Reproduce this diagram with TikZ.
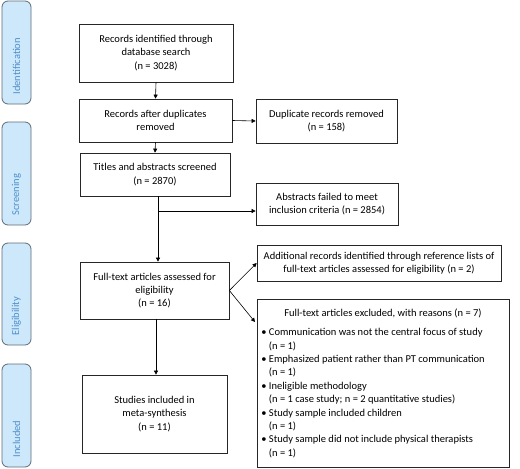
\documentclass[tikz,border=0pt]{standalone}
\usepackage{fontspec}
\setmainfont{Carlito}
\usetikzlibrary{arrows.meta,calc}
\definecolor{barfill}{HTML}{CDE8FB}
\definecolor{barline}{HTML}{5F6B75}
\definecolor{bartext}{HTML}{4F8FCB}
\begin{document}
\begin{tikzpicture}[x=1pt,y=-1pt,
  box/.style={draw=black!85,line width=0.7pt,align=center,font=\fontsize{10.5}{13.4}\selectfont,inner sep=2pt},
  bar/.style={draw=barline,fill=barfill,line width=0.8pt,rounded corners=6pt},
  bartxt/.style={rotate=90,anchor=west,text=bartext,font=\fontsize{10.5}{12}\selectfont},
  arr/.style={-{Triangle[length=4pt,width=4pt]},line width=0.6pt}]
\useasboundingbox (0,0) rectangle (520,469);
% side bars
\draw[bar] (2,1) rectangle (31,104);
\node[bartxt] (idl) at (16.5,98) {Identification};
\draw[bar] (2,122) rectangle (31,225);
\node[bartxt] (scl) at (16.5,219) {Screening};
\draw[bar] (2,243) rectangle (31,345);
\node[bartxt] (ell) at (16.5,339) {Eligibility};
\draw[bar] (2,364) rectangle (31,467);
\node[bartxt] (inl) at (16.5,461) {Included};
% boxes
\node[box,minimum width=154pt,minimum height=58pt] (b1) at (156,53) {Records identified through\\database search\\(n = 3028)};
\node[box,minimum width=153pt,minimum height=43pt] (b2) at (155.5,120.5) {Records after duplicates\\removed};
\node[box,minimum width=141pt,minimum height=44pt] (dup) at (326.5,121) {Duplicate records removed\\(n = 158)};
\node[box,minimum width=150pt,minimum height=43pt] (b3) at (155,174.5) {Titles and abstracts screened\\(n = 2870)};
\node[box,minimum width=142pt,minimum height=42pt] (abs) at (327,204) {Abstracts failed to meet\\inclusion criteria (n = 2854)};
\node[box,minimum width=149pt,minimum height=57pt] (full) at (154.5,290.5) {Full-text articles assessed for\\eligibility\\(n = 16)};
\node[box,minimum width=244pt,minimum height=36pt] (add) at (379,263) {Additional records identified through reference lists of\\full-text articles assessed for eligibility (n = 2)};
\node[box,minimum width=252pt,minimum height=168pt] (excl) at (383,383) {};
\node[box,draw=none,anchor=center] (exclt) at (383,313) {Full-text articles excluded, with reasons (n = 7)};
\node[box,draw=none,anchor=north west,align=left,inner sep=0pt] (excll) at (261,328) {%
\textbullet\ Communication was not the central focus of study\\
\hphantom{\textbullet\ }(n = 1)\\
\textbullet\ Emphasized patient rather than PT communication\\
\hphantom{\textbullet\ }(n = 1)\\
\textbullet\ Ineligible methodology\\
\hphantom{\textbullet\ }(n = 1 case study; n = 2 quantitative studies)\\
\textbullet\ Study sample included children\\
\hphantom{\textbullet\ }(n = 1)\\
\textbullet\ Study sample did not include physical therapists\\
\hphantom{\textbullet\ }(n = 1)};
\node[box,minimum width=145pt,minimum height=78pt] (stud) at (154.5,414) {Studies included in\\meta-synthesis\\(n = 11)};
% connectors
\draw[arr] (b1.south) -- (b2.north);
\draw[arr] (b2.east) -- (dup.west);
\draw[arr] (b2.south) -- (b3.north);
\coordinate (br) at (158,211);
\draw[arr] (b3.south -| br) -- (full.north -| br);
\draw[arr] (br) -- (abs.west |- br);
\coordinate (dt) at (255,322);
\draw[arr] (full.east) -- (add.west);
\draw[arr] (full.east) -- (dt);
\draw[arr] (full.south -| 156,0) -- (stud.north -| 156,0);
\end{tikzpicture}
\end{document}
